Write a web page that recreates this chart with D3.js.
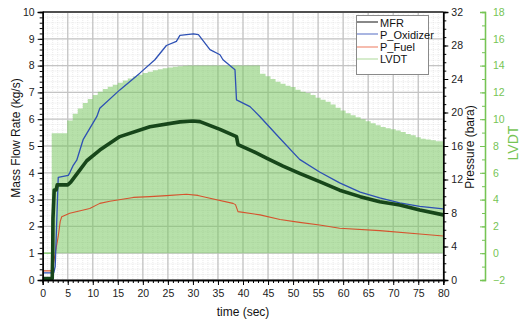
<!DOCTYPE html>
<html>
<head>
<meta charset="utf-8">
<script src="https://cdn.jsdelivr.net/npm/d3@7"></script>
<style>
body{margin:0;background:#fff;}
text{font-family:"Liberation Sans",Arial,sans-serif;}
</style>
</head>
<body>
<svg id="chart" width="525" height="320"></svg>
<script>
// MFR (kg/s) on the left axis
var mfrTime = [0,1.9,2.0,2.05,2.3,2.7,2.9,5.0,5.6,7.4,8.8,11.4,15.4,21.4,27.4,30,31.4,35.4,38.7,39.0,42,45,48,51.3,55.3,59.3,63.4,67.3,71.3,75.3,80];
var mfrVal  = [0.05,0.05,1.0,2.3,3.36,3.36,3.55,3.55,3.65,4.1,4.45,4.85,5.35,5.72,5.9,5.93,5.91,5.62,5.35,5.05,4.8,4.52,4.25,3.98,3.67,3.35,3.11,2.92,2.8,2.61,2.43];
// pressures (bara) on the right axis
var oxTime = [0,2.2,2.5,3.1,5.1,5.4,6.1,6.8,8.1,10.8,11.4,15.4,19.4,22.4,24.7,26.7,27.4,30.1,31.1,33.4,35.4,36,38.4,38.7,41.4,43.4,47.4,51.3,55.3,59.3,63.4,67.3,71.3,75.3,80];
var oxVal  = [0.86,0.86,1.6,12.25,12.5,12.8,13.7,14.3,16.8,19.5,20.5,22.7,24.7,26.3,28.0,28.5,29.2,29.4,29.3,27.5,26.9,26.3,25.1,21.5,20.7,19.5,16.9,14.4,12.9,11.6,10.5,9.8,9.2,8.8,8.5];
var fuelTime = [0,1.9,2.5,3.1,3.5,3.8,5.4,9.4,11.4,13.4,18.1,21.4,24.7,28.7,31,33.4,38,38.5,39,43.4,47.4,51.3,55.3,59.3,67.3,75.3,80];
var fuelVal  = [1.09,1.09,3.2,5.2,7.0,7.55,7.97,8.54,9.15,9.4,9.86,9.95,10.08,10.24,10.1,9.76,9.15,9.0,8.16,7.78,7.23,6.88,6.56,6.18,5.89,5.5,5.25];
// LVDT position (step signal)
var lvdtTime = [0,1.8,4.9,6,7,8,9,10,11,12,13,14,15,16,17,18,19,20,21,22,23,24,25,26,27,28,29,43.4,44.5,45.5,46.5,47.5,48.5,49.5,50.5,51.5,52.5,53.5,54.5,55.5,56.5,57.5,58.5,59.5,60.5,61.5,62.5,63.5,64.5,65.5,66.5,67.5,68.5,69.5,70.5,71.5,72.5,73.5,74.5,75.5,76.5,77.5,78.5,80];
var lvdtVal  = [0,8.95,9.9,10.4,10.8,11.2,11.5,11.8,12.05,12.25,12.42,12.58,12.72,12.88,13.03,13.18,13.32,13.45,13.55,13.65,13.73,13.8,13.86,13.91,13.95,13.98,14.0,13.4,13.2,13.0,12.8,12.65,12.5,12.4,12.2,12.05,11.95,11.8,11.6,11.45,11.3,11.1,10.85,10.65,10.45,10.3,10.15,10.0,9.85,9.7,9.55,9.42,9.33,9.25,9.15,9.05,8.9,8.8,8.65,8.55,8.48,8.42,8.35,8.3];

var xTicks = d3.range(0,81,5);
var mfrTicks = d3.range(0,11,1);
var presTicks = d3.range(0,33,4);
var lvdtTicks = d3.range(-2,19,2);
var seriesNames = ["MFR","P_Oxidizer","P_Fuel","LVDT"];
var seriesColors = ["#555555","#8596d4","#f3a08c","#c4e4b6"];

var plotLeft = 42.7, plotRight = 443.3, plotTop = 12, plotBottom = 280;
var svg = d3.select("#chart");

var x = d3.scaleLinear().domain([0,80]).range([plotLeft,plotRight]);
var yM = d3.scaleLinear().domain([0,10]).range([plotBottom,plotTop]);
var yP = d3.scaleLinear().domain([0,32]).range([plotBottom,plotTop]);
var yL = d3.scaleLinear().domain([-2,18]).range([plotBottom,plotTop]);

// minor grid
var grid = svg.append("g");
grid.selectAll("line.mx").data(d3.range(0,81,1)).enter().append("line")
  .attr("x1",d=>x(d)).attr("x2",d=>x(d)).attr("y1",plotTop).attr("y2",plotBottom)
  .attr("stroke","#dcdcdc").attr("stroke-width",0.6).attr("stroke-dasharray","1,1");
grid.selectAll("line.my").data(d3.range(0,10.01,0.2)).enter().append("line")
  .attr("y1",d=>yM(d)).attr("y2",d=>yM(d)).attr("x1",plotLeft).attr("x2",plotRight)
  .attr("stroke","#dcdcdc").attr("stroke-width",0.6).attr("stroke-dasharray","1,1");
// major grid
grid.selectAll("line.gx").data(xTicks).enter().append("line")
  .attr("x1",d=>x(d)).attr("x2",d=>x(d)).attr("y1",plotTop).attr("y2",plotBottom)
  .attr("stroke","#c4c4c4").attr("stroke-width",1.3);
grid.selectAll("line.gy").data(mfrTicks).enter().append("line")
  .attr("y1",d=>yM(d)).attr("y2",d=>yM(d)).attr("x1",plotLeft).attr("x2",plotRight)
  .attr("stroke","#c4c4c4").attr("stroke-width",1.3);

// LVDT filled area
var lvdt = lvdtTime.map((t,i)=>[t,lvdtVal[i]]);
svg.append("path").datum(lvdt)
  .attr("d",d3.area().curve(d3.curveStepAfter).x(d=>x(d[0])).y0(yL(0)).y1(d=>yL(d[1])))
  .attr("fill","#74c65c").attr("fill-opacity",0.52);
svg.append("path").datum(lvdt.slice(0,2))
  .attr("d",d3.line().x(d=>x(d[0])).y(yL(0)))
  .attr("stroke","#8ed27a").attr("stroke-width",1.5).attr("fill","none");

function drawLine(tt,vv,scale,color,w) {
  svg.append("path").datum(tt.map((t,i)=>[t,vv[i]]))
    .attr("d",d3.line().x(d=>x(d[0])).y(d=>scale(d[1])))
    .attr("fill","none").attr("stroke",color).attr("stroke-width",w).attr("stroke-linejoin","round");
}
drawLine(fuelTime,fuelVal,yP,"#d5532e",1.1);
drawLine(oxTime,oxVal,yP,"#2d50b4",1.3);
drawLine(mfrTime,mfrVal,yM,"#17461a",3.6);

// frame
svg.append("line").attr("x1",plotLeft).attr("x2",plotRight).attr("y1",plotTop).attr("y2",plotTop).attr("stroke","#505050").attr("stroke-width",2);

// left axis
var gl = svg.append("g").attr("transform","translate("+plotLeft+",0)");
gl.append("g").call(d3.axisLeft(yM).tickValues(d3.range(0,10.01,0.2)).tickSize(3).tickFormat(""));
gl.append("g").call(d3.axisLeft(yM).tickValues(mfrTicks).tickSize(5).tickFormat(d3.format("d")));
gl.selectAll("path.domain").attr("stroke","#000").attr("stroke-width",1.3);

// bottom axis
var gb = svg.append("g").attr("transform","translate(0,"+plotBottom+")");
gb.append("g").call(d3.axisBottom(x).tickValues(d3.range(0,81,1)).tickSize(3).tickFormat(""));
gb.append("g").call(d3.axisBottom(x).tickValues(xTicks).tickSize(5).tickFormat(d3.format("d")));
gb.selectAll("path.domain").attr("stroke","#000").attr("stroke-width",1.3);

// right pressure axis
var gr = svg.append("g").attr("transform","translate("+plotRight+",0)");
gr.append("g").call(d3.axisRight(yP).tickValues(d3.range(0,33,1)).tickSize(3).tickFormat(""));
gr.append("g").call(d3.axisRight(yP).tickValues(presTicks).tickSize(5).tickFormat(d3.format("d")));
gr.selectAll("path.domain").attr("stroke","#000").attr("stroke-width",1.3);

// LVDT axis
var gv = svg.append("g").attr("transform","translate(485,0)");
gv.append("g").call(d3.axisLeft(yL).tickValues(d3.range(-2,18.01,1)).tickSize(3).tickFormat(""));
gv.append("g").call(d3.axisLeft(yL).tickValues(lvdtTicks).tickSize(5).tickFormat(d3.format("d")));
gv.selectAll("path.domain").attr("stroke","#76c454").attr("stroke-width",1.3);
gv.selectAll("line").attr("stroke","#76c454");
gv.selectAll("text").attr("x",8).attr("text-anchor","start").attr("fill","#76c454");

svg.selectAll(".tick text").attr("font-size","10.5px").attr("font-family","Liberation Sans, Arial, sans-serif");
gl.selectAll("text").attr("fill","#222");
gb.selectAll("text").attr("fill","#222").attr("dy","0.85em");
gr.selectAll("text").attr("fill","#222");

// axis titles
svg.append("text").text("Mass Flow Rate (kg/s)").attr("transform","translate(20,138) rotate(-90)")
  .attr("text-anchor","middle").attr("font-size","12px").attr("fill","#111");
svg.append("text").text("time (sec)").attr("x",243).attr("y",316)
  .attr("text-anchor","middle").attr("font-size","12px").attr("fill","#111");
svg.append("text").text("Pressure (bara)").attr("transform","translate(474,147) rotate(-90)")
  .attr("text-anchor","middle").attr("font-size","12px").attr("fill","#111");
svg.append("text").text("LVDT").attr("transform","translate(518,143) rotate(-90)")
  .attr("text-anchor","middle").attr("font-size","14px").attr("fill","#76c454");

// legend
var lg = svg.append("g");
lg.append("rect").attr("x",356.5).attr("y",15.5).attr("width",72).attr("height",59)
  .attr("fill","#fff").attr("stroke","#8a8a8a").attr("stroke-width",1);
lg.selectAll("line").data(seriesNames).enter().append("line")
  .attr("x1",357).attr("x2",378).attr("y1",(d,i)=>Math.round(22+i*12.3)).attr("y2",(d,i)=>Math.round(22+i*12.3))
  .attr("stroke",(d,i)=>seriesColors[i]).attr("stroke-width",1.4);
lg.selectAll("text").data(seriesNames).enter().append("text").text(d=>d)
  .attr("x",380).attr("y",(d,i)=>26.5+i*12.3).attr("font-size","11px").attr("fill","#111");
</script>
</body>
</html>
